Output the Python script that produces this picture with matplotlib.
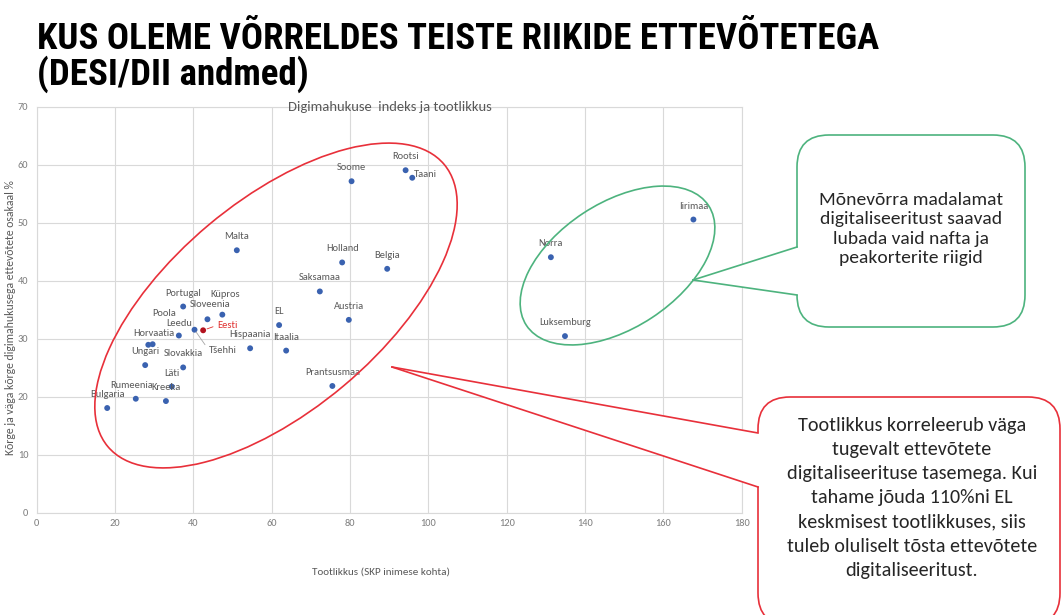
import matplotlib
matplotlib.use("Agg")
import matplotlib.pyplot as plt
from matplotlib import font_manager
from matplotlib.patches import Ellipse, FancyBboxPatch, Polygon
from matplotlib.lines import Line2D
from matplotlib.transforms import IdentityTransform

# --- data --------------------------------------------------------------------
countries = [
    "Bulgaria", "Rumeenia", "Kreeka", "Läti", "Slovakkia", "Ungari",
    "Horvaatia", "Poola", "Leedu", "Tšehhi", "Eesti", "Portugal",
    "Sloveenia", "Küpros", "Malta", "Hispaania", "EL", "Itaalia",
    "Saksamaa", "Holland", "Belgia", "Austria", "Prantsusmaa", "Soome",
    "Rootsi", "Taani", "Iirimaa", "Norra", "Luksemburg",
]
productivity = [
    18.0, 25.3, 33.0, 34.5, 37.4, 27.7,
    28.5, 29.6, 36.3, 40.3, 42.5, 37.4,
    43.6, 47.4, 51.1, 54.5, 61.9, 63.7,
    72.3, 78.0, 89.5, 79.7, 75.5, 80.4,
    94.2, 95.9, 167.7, 131.3, 134.9,
]
digital_share = [
    18.1, 19.7, 19.3, 21.8, 25.1, 25.5,
    29.0, 29.1, 30.6, 31.6, 31.5, 35.6,
    33.4, 34.2, 45.3, 28.4, 32.4, 28.0,
    38.2, 43.2, 42.1, 33.3, 21.9, 57.2,
    59.1, 57.8, 50.6, 44.1, 30.5,
]
highlight = "Eesti"

x_ticks = list(range(0, 181, 20))
y_ticks = list(range(0, 71, 10))

title_lines = ["KUS OLEME VÕRRELDES TEISTE RIIKIDE ETTEVÕTETEGA", "(DESI/DII andmed)"]
chart_title = "Digimahukuse  indeks ja tootlikkus"
x_label = "Tootlikkus (SKP inimese kohta)"
y_label = "Kõrge ja väga kõrge digimahukusega ettevõtete osakaal %"
green_note = "Mõnevõrra madalamat\ndigitaliseeritust saavad\nlubada vaid nafta ja\npeakorterite riigid"
red_note = ("Tootlikkus korreleerub väga\ntugevalt ettevõtete\ndigitaliseerituse tasemega. Kui\n"
            "tahame jõuda 110%ni EL\nkeskmisest tootlikkuses, siis\ntuleb oluliselt tõsta ettevõtete\n"
            "digitaliseeritust.")

# label offsets in pixels (dx, dy up); everything else sits just above its dot
label_offsets = {
    "Rumeenia": (-4, 13), "Horvaatia": (6, 11), "Poola": (12, 31),
    "Leedu": (0, 12.5), "Sloveenia": (3, 15), "Küpros": (3, 20),
}

W, H = 1063, 615
installed = {f.name for f in font_manager.fontManager.ttflist}


def pick(*names):
    for n in names:
        if n in installed:
            return n
    return "DejaVu Sans"


TITLE_FONT = pick("Roboto Condensed", "Liberation Sans Narrow", "Open Sans Condensed", "Roboto")
BODY_FONT = pick("Carlito", "Lato", "Open Sans")
plt.rcParams["font.family"] = [BODY_FONT, "DejaVu Sans"]

GRID = "#d9d9d9"
TXT = "#595959"
DOT = "#3a62b0"
LABEL_SIZE = 7.5


def px(x, y):
    """figure pixel (y from top) -> display coords"""
    return x, H - y


fig = plt.figure(figsize=(W / 100, H / 100), dpi=100)
ax = fig.add_axes([36.7 / W, (H - 513) / H, 704.9 / W, 406 / H])
ax.set_xlim(0, 180)
ax.set_ylim(0, 70)
ax.set_xticks(x_ticks)
ax.set_yticks(y_ticks)
ax.grid(True, color=GRID, lw=0.8)
ax.set_axisbelow(True)
for s in ax.spines.values():
    s.set_color(GRID)
    s.set_linewidth(0.8)
ax.tick_params(length=0, labelsize=7.5, labelcolor="#7f7f7f")
ax.tick_params(axis="y", pad=6)
ax.tick_params(axis="x", pad=4.5)

colors = ["#b3121f" if c == highlight else DOT for c in countries]
ax.scatter(productivity, digital_share, s=18, c=colors, zorder=3, linewidths=0)

for c, x, y in zip(countries, productivity, digital_share):
    if c == highlight:
        ax.annotate(c, (x, y), xytext=(14, 5), textcoords="offset pixels",
                    fontsize=LABEL_SIZE, color="#e0302f", ha="left", va="center",
                    arrowprops=dict(arrowstyle="-", color="#e0302f", lw=0.6,
                                    shrinkA=1, shrinkB=3, relpos=(0, 0.5)))
    elif c == "Tšehhi":
        ax.annotate(c, (x, y), xytext=(28, -21), textcoords="offset pixels",
                    fontsize=LABEL_SIZE, color=TXT, ha="center", va="center",
                    arrowprops=dict(arrowstyle="-", color="#a6a6a6", lw=0.6,
                                    shrinkA=1, shrinkB=2, relpos=(0, 0.6)))
    elif c == "Taani":
        ax.annotate(c, (x, y), xytext=(2, 3.5), textcoords="offset pixels",
                    fontsize=LABEL_SIZE, color=TXT, ha="left", va="center")
    else:
        dx, dy = label_offsets.get(c, (0, 13.5))
        ax.annotate(c, (x, y), xytext=(dx, dy), textcoords="offset pixels",
                    fontsize=LABEL_SIZE, color=TXT, ha="center", va="center")

# titles and axis labels
t1 = fig.text(37 / W, 1 - 49 / H, title_lines[0], fontsize=24, fontweight="bold",
              family=[TITLE_FONT, "DejaVu Sans"], fontstretch="condensed", va="baseline")
t2 = fig.text(37 / W, 1 - 85 / H, title_lines[1], fontsize=24, fontweight="bold",
              family=[TITLE_FONT, "DejaVu Sans"], fontstretch="condensed", va="baseline")
fig.canvas.draw()
w = t1.get_window_extent(fig.canvas.get_renderer()).width
new_size = 24 * 843 / w
t1.set_fontsize(new_size)
t2.set_fontsize(new_size)

fig.text(390 / W, 1 - 107 / H, chart_title, fontsize=10.5, color=TXT, ha="center", va="center")
fig.text(381 / W, 1 - 572 / H, x_label, fontsize=8, color=TXT, ha="center", va="center")
fig.text(11 / W, 1 - 318 / H, y_label, fontsize=8.5, color=TXT, ha="center", va="center",
         rotation=90)

# ellipses around the groups
ident = IdentityTransform()
fig.add_artist(Ellipse(px(276, 305.5), 439, 210, angle=40, fill=False,
                       ec="#e8303a", lw=1.2, transform=ident, zorder=6))
fig.add_artist(Ellipse(px(617.5, 265.5), 218, 125, angle=33.3, fill=False,
                       ec="#4db37e", lw=1.2, transform=ident, zorder=6))


def callout(box, tip, base, color, text, size, spacing, center):
    x0, y0, x1, y1 = box
    fig.add_artist(FancyBboxPatch(px(x0, y1), x1 - x0, y1 - y0,
                                  boxstyle="round,pad=0,rounding_size=32",
                                  fc="white", ec=color, lw=1.2, transform=ident, zorder=2))
    fig.add_artist(Polygon([px(*tip), px(x0 + 2.5, base[0]), px(x0 + 2.5, base[1])],
                           closed=True, fc="white", ec="none", transform=ident, zorder=3))
    for by in base:
        a, b = px(*tip), px(x0, by)
        fig.add_artist(Line2D([a[0], b[0]], [a[1], b[1]], color=color, lw=1.2,
                              transform=ident, zorder=4))
    fig.text(center[0] / W, 1 - center[1] / H, text, fontsize=size, color="#262626",
             ha="center", va="center", multialignment="center", linespacing=spacing,
             zorder=5)


callout((797, 135, 1025, 327), (693, 280), (247, 295), "#4db37e", green_note,
        14, 1.28, (911, 229))
callout((758, 397, 1060, 625), (392, 367), (433, 487), "#e8303a", red_note,
        14.5, 1.52, (912, 498))

fig.savefig("out.png", dpi=100)
